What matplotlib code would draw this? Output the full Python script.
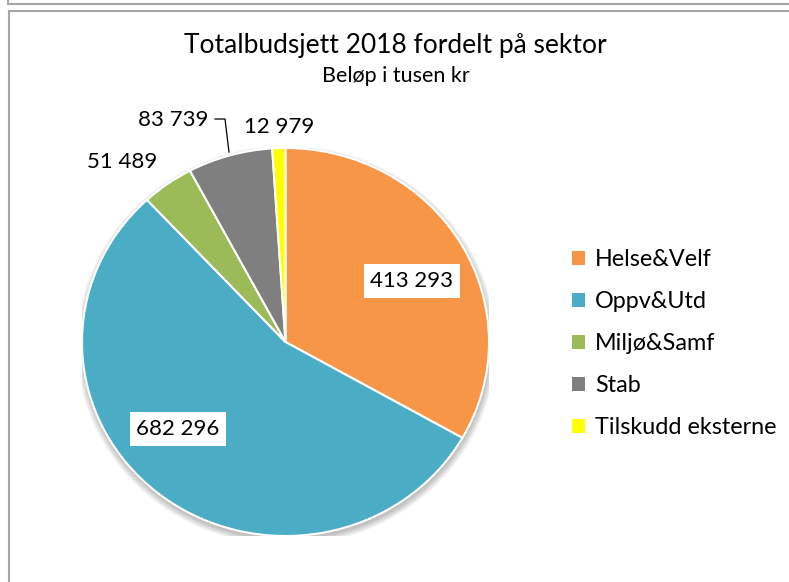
import matplotlib
matplotlib.use("Agg")
import matplotlib.pyplot as plt
from matplotlib.patches import Ellipse, Rectangle

plt.rcParams['font.family'] = ['Lato', 'DejaVu Sans']

categories = ["Helse&Velf", "Oppv&Utd", "Miljø&Samf", "Stab", "Tilskudd eksterne"]
values = [413293, 682296, 51489, 83739, 12979]
colors = ["#F79646", "#4BACC6", "#9BBB59", "#7F7F7F", "#FFFF00"]
title = "Totalbudsjett 2018 fordelt på sektor"
subtitle = "Beløp i tusen kr"

def fmt(v):
    return f"{v:,}".replace(",", " ")

W, H = 789, 582
fig = plt.figure(figsize=(W / 100, H / 100), dpi=100)

# pie axes
cx, cy, rx, ry = 285.5, 342, 203.5, 194
ax = fig.add_axes([(cx - rx) / W, (H - cy - ry) / H, 2 * rx / W, 2 * ry / H])
for i in range(6):
    ax.add_patch(Ellipse((0.004, -0.018), 2.0 + 0.012 * i, 2.0 + 0.012 * i,
                         facecolor="black", alpha=0.045, lw=0, zorder=0))
wedges, _ = ax.pie(values, colors=colors, startangle=90, counterclock=False,
                   radius=1.0, wedgeprops=dict(edgecolor="white", linewidth=1.5))
for w in wedges:
    w.set_zorder(2)
ax.set_aspect('auto')
ax.set_xlim(-1, 1)
ax.set_ylim(-1, 1)
ax.axis('off')

# overlay axes in pixel coordinates (on top)
ov = fig.add_axes([0, 0, 1, 1], zorder=5)
ov.set_xlim(0, W)
ov.set_ylim(H, 0)
ov.axis('off')
ov.patch.set_alpha(0)
frame_col = "#A6A6A6"
ov.plot([8.5, W + 5], [4, 4], color=frame_col, lw=1.5)
ov.plot([8.5, 8.5], [-5, 4], color=frame_col, lw=1.5)
ov.plot([9, W + 5], [10.5, 10.5], color=frame_col, lw=1.5)
ov.plot([9, 9], [10.5, H + 5], color=frame_col, lw=1.5)

# title
ov.text(395, 45, title, ha='center', va='center', fontsize=19, color='black')
ov.text(396, 76, subtitle, ha='center', va='center', fontsize=15.5, color='black')

# data labels (pixel positions)
label_pos = [(412, 281, True), (178, 429, True), (122, 162, False),
             (173, 120, False), (279, 127, False)]
for v, (x, y, boxed) in zip(values, label_pos):
    kw = {}
    if boxed:
        kw['bbox'] = dict(boxstyle='square,pad=0.3', facecolor='white', edgecolor='none')
    ov.text(x, y, fmt(v), ha='center', va='center', fontsize=16, color='black', **kw)

# leader line for Stab
ov.plot([215, 225, 229], [119, 119, 152], color='black', lw=0.9)

# legend
handles = [Rectangle((0, 0), 1, 1, facecolor=c, edgecolor='none') for c in colors]
fig.legend(handles, categories, loc='upper left', bbox_to_anchor=(572 / W, 1 - 249 / H),
           frameon=False, fontsize=16.8, handlelength=0.55, handleheight=0.55,
           handletextpad=0.45, labelspacing=0.9, borderaxespad=0, borderpad=0)

fig.savefig("out.png", dpi=100)
